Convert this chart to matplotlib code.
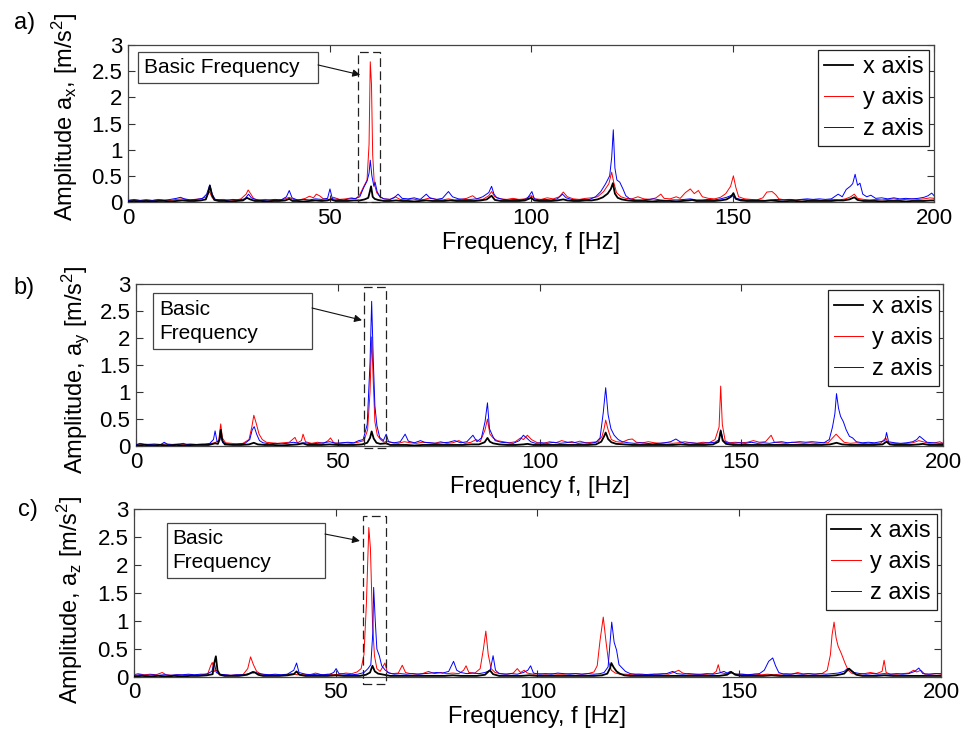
import matplotlib
matplotlib.use("Agg")
import matplotlib.pyplot as plt
from matplotlib.patches import Rectangle

plt.rcParams['font.family'] = ['Liberation Sans', 'DejaVu Sans']
plt.rcParams['mathtext.fontset'] = 'custom'
plt.rcParams['mathtext.rm'] = 'Liberation Sans'
plt.rcParams['mathtext.it'] = 'Liberation Sans:italic'
plt.rcParams['mathtext.default'] = 'regular'

# ---------------- data: (frequency [Hz], amplitude [m/s^2]) ----------------
A_X = [(0,0.01),(1.5,0.02),(3,0.01),(4.5,0.02),(6,0.01),(7.5,0.02),(9,0.02),(10.5,0.01),(12,0.02),(13.5,0.03),(15,0.02),(16.5,0.02),(18,0.03),(19.3,0.05),(19.9,0.18),(20.3,0.31),(20.8,0.14),(21.4,0.04),(22.5,0.02),(24,0.02),(25.5,0.01),(27,0.02),(28.5,0.03),(29.5,0.08),(30.3,0.05),(31.5,0.02),(33,0.02),(34.5,0.01),(36,0.02),(37.5,0.02),(39,0.03),(40,0.06),(40.8,0.02),(42,0.02),(43.5,0.01),(45,0.02),(46.5,0.03),(48,0.02),(49.5,0.03),(50.3,0.05),(51.5,0.02),(53,0.02),(54.5,0.02),(56,0.03),(57.5,0.03),(58.7,0.05),(59.6,0.08),(60.0,0.2),(60.3,0.3),(60.7,0.1),(61.2,0.06),(62,0.04),(63.5,0.02),(65,0.02),(66.5,0.03),(68,0.02),(69.5,0.02),(71,0.01),(72.5,0.02),(74,0.03),(75.5,0.02),(77,0.02),(78.5,0.02),(80,0.03),(81.5,0.02),(83,0.02),(84.5,0.02),(86,0.02),(87.5,0.03),(89,0.05),(90.2,0.12),(91,0.04),(92.5,0.02),(94,0.02),(95.5,0.02),(97,0.02),(98.5,0.03),(100,0.08),(100.8,0.03),(102,0.02),(103.5,0.02),(105,0.02),(106.5,0.03),(108,0.05),(109,0.03),(110.5,0.02),(112,0.02),(113.5,0.03),(115,0.03),(116.5,0.05),(117.8,0.09),(119,0.16),(119.8,0.25),(120.3,0.36),(120.8,0.16),(121.5,0.08),(122.5,0.05),(124,0.03),(125.5,0.02),(127,0.02),(128.5,0.02),(130,0.01),(131.5,0.02),(133,0.02),(134.5,0.02),(136,0.01),(137.5,0.02),(139,0.03),(140,0.04),(141,0.02),(142.5,0.02),(144,0.02),(145.5,0.02),(147,0.03),(148.5,0.05),(149.6,0.1),(150.2,0.17),(150.8,0.06),(152,0.03),(153.5,0.02),(155,0.02),(156.5,0.02),(158,0.02),(159.5,0.03),(161,0.02),(162.5,0.01),(164,0.02),(165.5,0.02),(167,0.01),(168.5,0.02),(170,0.02),(171.5,0.02),(173,0.02),(174.5,0.02),(176,0.03),(177.5,0.03),(179,0.05),(180.2,0.09),(181,0.04),(182.5,0.02),(184,0.02),(185.5,0.02),(187,0.01),(188.5,0.02),(190,0.02),(191.5,0.02),(193,0.01),(194.5,0.02),(196,0.02),(197.5,0.02),(199,0.03),(200,0.03)]
A_Y = [(0,0.03),(1.5,0.05),(3,0.03),(4.5,0.04),(6,0.03),(7.5,0.05),(9,0.04),(10.5,0.03),(12,0.05),(13.5,0.06),(15,0.04),(16.5,0.05),(18,0.06),(19.5,0.1),(20.2,0.2),(20.9,0.08),(22,0.04),(23.5,0.05),(25,0.04),(26.5,0.03),(28,0.06),(29.3,0.15),(29.8,0.23),(30.4,0.16),(31.2,0.06),(32.5,0.04),(34,0.05),(35.5,0.03),(37,0.04),(38.5,0.05),(40,0.09),(41,0.05),(42.5,0.04),(44,0.07),(45,0.11),(46,0.08),(46.7,0.15),(47.5,0.12),(48.5,0.06),(50,0.05),(51,0.09),(52.5,0.05),(54,0.06),(55.5,0.08),(56.5,0.06),(57.5,0.14),(58.5,0.3),(59.3,0.42),(59.8,1.1),(60.1,2.68),(60.4,2.25),(60.7,0.9),(61.1,0.35),(61.7,0.18),(62.5,0.1),(63.5,0.06),(65,0.05),(66.3,0.1),(67.5,0.05),(69,0.04),(70.5,0.06),(72,0.04),(73.5,0.05),(75,0.08),(76.5,0.05),(78,0.04),(79.5,0.06),(81,0.04),(82.5,0.05),(84,0.07),(85.5,0.12),(86.5,0.06),(88,0.05),(89.5,0.12),(90.2,0.2),(91,0.1),(92.5,0.06),(94,0.05),(95.5,0.07),(97,0.05),(98.5,0.06),(100,0.12),(101,0.06),(102.5,0.05),(104,0.08),(105.5,0.06),(107,0.1),(108,0.19),(109,0.1),(110.5,0.06),(112,0.05),(113.5,0.07),(115,0.08),(116.5,0.1),(118,0.2),(119.3,0.35),(120,0.57),(120.5,0.38),(121.2,0.18),(122.3,0.1),(123.5,0.07),(125,0.06),(126.5,0.1),(128,0.06),(129.5,0.05),(131,0.08),(132.2,0.15),(133,0.07),(134.5,0.06),(136,0.1),(137,0.07),(138.3,0.18),(139.5,0.25),(140.5,0.16),(141.5,0.22),(142.5,0.1),(144,0.07),(145.5,0.06),(147,0.09),(148.3,0.16),(149.5,0.3),(150.2,0.5),(150.8,0.28),(151.5,0.1),(153,0.06),(154.5,0.05),(156,0.04),(157.5,0.08),(158.5,0.19),(159.8,0.2),(160.7,0.14),(161.5,0.06),(163,0.04),(164.5,0.05),(166,0.03),(167.5,0.05),(169,0.04),(170.5,0.05),(172,0.03),(173.5,0.04),(175,0.05),(176.5,0.04),(178,0.06),(179.3,0.1),(180.2,0.15),(181,0.07),(182.5,0.05),(184,0.04),(185.5,0.05),(187,0.04),(188.5,0.05),(190,0.06),(191.5,0.04),(193,0.05),(194.5,0.06),(196,0.05),(197.5,0.06),(199,0.08),(200,0.07)]
A_Z = [(0,0.03),(1.5,0.04),(3,0.03),(4.5,0.04),(6,0.03),(7.5,0.04),(9,0.03),(10.5,0.05),(12,0.07),(13,0.09),(14,0.06),(15.5,0.04),(17,0.05),(18.5,0.07),(19.5,0.15),(20.3,0.33),(20.9,0.15),(21.6,0.05),(23,0.04),(24.5,0.03),(26,0.05),(27.5,0.04),(29,0.06),(29.9,0.15),(30.6,0.08),(32,0.04),(33.5,0.03),(35,0.04),(36.5,0.05),(38,0.04),(39.3,0.1),(40,0.22),(40.7,0.08),(42,0.04),(43.5,0.05),(45,0.04),(46.5,0.06),(48,0.05),(49.5,0.07),(50.1,0.25),(50.7,0.06),(52,0.05),(53.5,0.04),(55,0.06),(56.5,0.07),(57.5,0.1),(58.5,0.28),(59.3,0.4),(59.8,0.55),(60.1,0.8),(60.5,0.5),(61,0.3),(61.3,0.38),(61.8,0.2),(62.5,0.1),(63.5,0.06),(65,0.05),(66,0.08),(67,0.15),(68,0.07),(69.5,0.06),(71,0.08),(72.5,0.05),(74,0.15),(75,0.07),(76.5,0.05),(78,0.07),(79.5,0.2),(80.5,0.1),(82,0.06),(83.5,0.05),(85,0.05),(86.5,0.06),(88,0.1),(89.5,0.18),(90.2,0.3),(90.8,0.15),(91.5,0.08),(93,0.05),(94.5,0.04),(96,0.05),(97.5,0.04),(99,0.06),(100.2,0.2),(100.8,0.06),(102,0.04),(103.5,0.05),(105,0.04),(106.5,0.06),(107.8,0.15),(108.7,0.08),(110,0.05),(111.5,0.04),(113,0.05),(114.5,0.05),(116,0.1),(117.3,0.2),(118.5,0.35),(119.5,0.5),(120,0.85),(120.4,1.38),(120.8,0.65),(121.3,0.42),(122,0.38),(122.8,0.25),(123.5,0.12),(124.5,0.06),(126,0.04),(127.5,0.04),(129,0.05),(130.5,0.06),(132,0.04),(133.5,0.03),(135,0.04),(136.5,0.04),(138,0.05),(139.5,0.06),(141,0.04),(142.5,0.04),(144,0.05),(145.5,0.04),(147,0.06),(148.5,0.09),(149.8,0.13),(150.5,0.08),(152,0.05),(153.5,0.04),(155,0.04),(156.5,0.04),(158,0.03),(159.5,0.04),(161,0.05),(162.5,0.04),(164,0.05),(165.5,0.04),(167,0.05),(168.5,0.06),(170,0.05),(171.5,0.06),(173,0.05),(174.5,0.06),(176.2,0.15),(177.2,0.1),(178.2,0.24),(179.2,0.3),(179.8,0.35),(180.4,0.53),(181,0.32),(181.6,0.36),(182.3,0.15),(183.3,0.1),(184.3,0.13),(185.5,0.07),(187,0.08),(188.5,0.06),(190,0.08),(191.5,0.06),(193,0.07),(194.5,0.06),(196,0.07),(197.5,0.09),(198.5,0.12),(199.4,0.17),(200,0.12)]

B_X = [(0,0.01),(2,0.02),(4,0.01),(6,0.02),(8,0.01),(10,0.02),(12,0.01),(14,0.02),(16,0.02),(18,0.02),(19.6,0.05),(20.3,0.04),(20.7,0.12),(21,0.3),(21.4,0.1),(22,0.03),(24,0.02),(26,0.02),(28,0.03),(29.2,0.06),(30.2,0.03),(32,0.02),(34,0.02),(36,0.01),(38,0.02),(40,0.03),(41.4,0.05),(42.5,0.02),(44,0.02),(46,0.02),(48,0.03),(50,0.02),(52,0.02),(54,0.02),(56,0.03),(57.3,0.06),(58,0.15),(58.4,0.27),(58.9,0.14),(59.6,0.06),(60.5,0.04),(62,0.05),(63,0.02),(65,0.02),(67,0.02),(69,0.01),(71,0.02),(73,0.02),(75,0.02),(77,0.02),(79,0.02),(81,0.02),(83,0.03),(85,0.03),(86.4,0.07),(87.1,0.15),(87.7,0.08),(88.5,0.05),(90,0.03),(92,0.02),(94,0.02),(96,0.03),(97,0.04),(98.5,0.02),(100,0.02),(102,0.02),(104,0.02),(106,0.02),(108,0.02),(110,0.02),(112,0.02),(114,0.03),(115.3,0.08),(116,0.18),(116.4,0.25),(117,0.13),(117.8,0.07),(119,0.04),(121,0.03),(123,0.02),(125,0.02),(127,0.02),(129,0.02),(131,0.02),(133,0.02),(135,0.03),(137,0.02),(139,0.02),(141,0.02),(143,0.03),(144.4,0.08),(144.9,0.28),(145.4,0.1),(146.2,0.04),(148,0.02),(150,0.02),(152,0.02),(154,0.02),(156,0.02),(158,0.02),(160,0.02),(162,0.02),(164,0.02),(166,0.02),(168,0.02),(170,0.02),(172,0.03),(173.6,0.06),(175,0.03),(177,0.02),(179,0.02),(181,0.02),(183,0.02),(185,0.03),(186,0.08),(186.8,0.03),(188,0.02),(190,0.02),(192,0.02),(194,0.03),(195,0.04),(196.5,0.02),(198,0.02),(200,0.02)]
B_Y = [(0,0.03),(1.5,0.04),(3,0.03),(4.5,0.04),(6,0.03),(7.5,0.04),(9,0.03),(10.5,0.04),(12,0.03),(13.5,0.04),(15,0.03),(16.5,0.04),(18,0.04),(19.5,0.06),(20.5,0.1),(21,0.41),(21.4,0.15),(22.2,0.06),(23.5,0.05),(25,0.04),(26.5,0.05),(28,0.12),(28.7,0.35),(29.2,0.57),(29.8,0.42),(30.5,0.22),(31.3,0.12),(32.3,0.07),(33.5,0.06),(35,0.05),(36.5,0.06),(38,0.07),(39.4,0.16),(40,0.06),(41,0.1),(41.4,0.22),(42,0.08),(43.5,0.05),(45,0.07),(46.5,0.05),(47.6,0.1),(48.2,0.15),(49,0.06),(50.5,0.05),(52,0.06),(53.5,0.05),(55,0.07),(56.5,0.1),(57.4,0.3),(58,1.0),(58.4,2.02),(58.8,1.2),(59.2,0.45),(59.8,0.2),(60.6,0.12),(61.5,0.07),(62.2,0.09),(63.5,0.06),(65,0.05),(66.5,0.08),(68,0.06),(69.5,0.05),(71,0.07),(72.5,0.06),(74,0.05),(75.5,0.08),(77,0.05),(78.5,0.06),(80,0.1),(81.5,0.05),(83,0.07),(84.3,0.12),(85.3,0.08),(86.5,0.3),(87.1,0.5),(87.7,0.22),(88.5,0.15),(89.5,0.1),(91,0.08),(92.5,0.06),(94,0.08),(95.3,0.15),(96,0.12),(97,0.2),(98,0.12),(99.5,0.06),(101,0.05),(102.5,0.08),(104,0.06),(105.5,0.1),(107,0.07),(108.5,0.06),(110,0.09),(111.5,0.06),(113,0.07),(114.5,0.08),(115.5,0.18),(116,0.32),(116.4,0.48),(117,0.3),(117.8,0.12),(119,0.08),(120.5,0.07),(122,0.12),(123,0.13),(124,0.07),(125.5,0.06),(127,0.08),(128.5,0.06),(130,0.05),(131.5,0.06),(133,0.05),(134.5,0.06),(136,0.08),(137.5,0.06),(139,0.05),(140.5,0.07),(142,0.06),(143.5,0.12),(144.5,0.35),(144.9,1.11),(145.3,0.4),(146,0.1),(147,0.06),(148.5,0.07),(150,0.06),(151.5,0.07),(153,0.1),(154.5,0.07),(156,0.08),(157.4,0.2),(158.2,0.07),(159.5,0.06),(161,0.05),(162.5,0.07),(164,0.06),(165.5,0.05),(167,0.06),(168.5,0.05),(170,0.06),(171.5,0.06),(172.5,0.14),(173.5,0.22),(174.5,0.14),(175.5,0.07),(177,0.05),(178.5,0.06),(180,0.05),(181.5,0.04),(183,0.05),(184.5,0.05),(185.8,0.15),(186.4,0.06),(188,0.05),(189.5,0.04),(191,0.05),(192.5,0.06),(194,0.1),(195,0.08),(196.5,0.05),(198,0.06),(199.2,0.08),(200,0.05)]
B_Z = [(0,0.02),(1,0.05),(2,0.03),(3.5,0.03),(5,0.02),(6.2,0.03),(7,0.07),(7.8,0.03),(9,0.02),(10.5,0.03),(11.7,0.05),(12.5,0.03),(14,0.02),(15.5,0.03),(17,0.03),(18.3,0.05),(19.2,0.12),(19.6,0.28),(20.1,0.08),(20.7,0.1),(21,0.2),(21.5,0.06),(22.5,0.04),(24,0.03),(25.5,0.04),(27,0.05),(28.2,0.12),(28.8,0.3),(29.3,0.36),(29.9,0.22),(30.6,0.1),(31.5,0.06),(33,0.04),(34.5,0.05),(36,0.04),(37.5,0.05),(39,0.07),(40.5,0.05),(42,0.06),(43.5,0.04),(45,0.05),(46.5,0.06),(48,0.08),(49.5,0.05),(51,0.06),(52.5,0.07),(54,0.06),(55.2,0.1),(56.3,0.12),(57.3,0.4),(58,1.55),(58.4,2.68),(58.8,1.6),(59.2,0.75),(59.7,0.38),(60.4,0.16),(61.3,0.1),(62,0.22),(62.6,0.08),(64,0.06),(65.5,0.08),(66.7,0.22),(67.5,0.09),(69,0.06),(70.5,0.1),(71.5,0.07),(73,0.06),(74.5,0.05),(76,0.06),(77.5,0.07),(79,0.1),(80.5,0.06),(82,0.08),(83.5,0.2),(84.5,0.08),(85.6,0.15),(86.5,0.45),(87.1,0.8),(87.6,0.32),(88.3,0.2),(89,0.1),(90.5,0.07),(92,0.06),(93.5,0.05),(95,0.1),(96,0.2),(96.8,0.15),(97.8,0.08),(99,0.05),(100.5,0.06),(102,0.05),(103.5,0.07),(105,0.05),(106.5,0.06),(108,0.08),(109.5,0.05),(111,0.06),(112.5,0.05),(114,0.07),(115,0.15),(115.8,0.62),(116.4,1.08),(117,0.58),(117.7,0.32),(118.5,0.2),(119.5,0.12),(120.5,0.08),(122,0.06),(123.5,0.05),(125,0.06),(126.5,0.05),(128,0.04),(129.5,0.05),(131,0.06),(132.5,0.08),(133.8,0.13),(134.8,0.08),(136,0.05),(137.5,0.06),(139,0.05),(140.5,0.05),(142,0.06),(143.5,0.07),(144.5,0.12),(144.9,0.3),(145.5,0.1),(146.5,0.06),(148,0.05),(149.5,0.06),(151,0.05),(152.5,0.07),(154,0.05),(155.5,0.06),(157,0.05),(158.5,0.07),(160,0.08),(161.5,0.06),(163,0.07),(164.5,0.08),(166,0.07),(167.5,0.08),(169,0.07),(170.5,0.06),(171.8,0.12),(172.6,0.35),(173.2,0.6),(173.6,0.97),(174.1,0.7),(174.6,0.55),(175.3,0.45),(176,0.3),(176.8,0.18),(177.6,0.15),(178.5,0.08),(180,0.06),(181.5,0.07),(183,0.06),(184.5,0.08),(185.6,0.1),(186,0.25),(186.5,0.08),(188,0.06),(189.5,0.05),(191,0.06),(192.5,0.08),(193.5,0.12),(194.2,0.18),(195,0.13),(196,0.07),(197.5,0.06),(199,0.05),(200,0.05)]

C_X = [(0,0.01),(2,0.02),(4,0.01),(6,0.02),(8,0.01),(10,0.02),(12,0.01),(14,0.02),(16,0.02),(18,0.03),(19.5,0.05),(19.9,0.25),(20.3,0.37),(20.7,0.12),(21.3,0.04),(22.5,0.02),(24,0.02),(26,0.02),(28,0.04),(29.3,0.08),(30,0.08),(30.8,0.04),(32,0.02),(34,0.02),(36,0.02),(38,0.03),(39.6,0.05),(40.3,0.1),(41,0.04),(42.5,0.02),(44,0.02),(46,0.02),(48,0.02),(50,0.03),(52,0.02),(54,0.02),(56,0.02),(57.5,0.04),(58.5,0.08),(59.1,0.2),(59.7,0.1),(60.5,0.06),(62,0.04),(63.5,0.02),(65,0.02),(67,0.02),(69,0.02),(71,0.02),(73,0.02),(75,0.02),(77,0.02),(79,0.03),(81,0.02),(83,0.02),(85,0.02),(87,0.04),(88.2,0.12),(89,0.05),(90.5,0.02),(92,0.02),(94,0.02),(96,0.02),(98,0.03),(100,0.02),(102,0.02),(104,0.02),(106,0.02),(108,0.02),(110,0.02),(112,0.02),(114,0.02),(116,0.03),(117.3,0.06),(118,0.16),(118.3,0.25),(118.9,0.17),(119.6,0.1),(120.4,0.06),(121.5,0.03),(123,0.02),(125,0.02),(127,0.02),(129,0.02),(131,0.02),(133,0.02),(135,0.02),(137,0.02),(139,0.02),(141,0.02),(143,0.02),(145,0.02),(147,0.04),(148,0.09),(149,0.04),(150.5,0.02),(152,0.02),(154,0.02),(156,0.02),(158,0.03),(160,0.02),(162,0.02),(164,0.02),(166,0.02),(168,0.02),(170,0.02),(172,0.02),(174,0.03),(176,0.06),(177.2,0.15),(178,0.1),(179,0.04),(180.5,0.02),(182,0.02),(184,0.02),(186,0.03),(188,0.02),(190,0.02),(192,0.02),(194,0.02),(196,0.02),(198,0.02),(200,0.02)]
C_Y = [(0,0.04),(1,0.06),(2.5,0.04),(4,0.05),(5.5,0.04),(7,0.08),(8,0.04),(9.5,0.03),(11,0.04),(12.5,0.03),(14,0.04),(15.5,0.03),(17,0.04),(18.3,0.06),(19,0.2),(19.4,0.26),(19.9,0.1),(20.5,0.12),(21,0.05),(22.5,0.04),(24,0.03),(25.5,0.04),(27,0.04),(28.2,0.15),(28.9,0.36),(29.6,0.22),(30.4,0.1),(31.5,0.05),(33,0.04),(34.5,0.04),(36,0.03),(37.5,0.04),(39,0.06),(40.5,0.04),(42,0.05),(43.5,0.04),(45,0.07),(46.5,0.04),(48,0.05),(49.5,0.04),(51,0.05),(52.5,0.07),(54,0.06),(55.3,0.09),(56.3,0.15),(57,0.4),(57.6,1.3),(58.2,2.67),(58.6,2.3),(59.1,1.0),(59.6,0.38),(60.2,0.15),(61,0.1),(62.2,0.25),(62.8,0.08),(64,0.06),(65.5,0.07),(66.5,0.21),(67.3,0.08),(68.5,0.06),(70,0.05),(71.5,0.06),(73,0.1),(74.5,0.06),(76,0.08),(77.5,0.06),(79,0.07),(80.5,0.06),(81.7,0.12),(82.3,0.2),(83,0.08),(84.5,0.07),(85.8,0.15),(86.6,0.5),(87.2,0.82),(87.8,0.4),(88.5,0.15),(89.5,0.08),(91,0.06),(92.5,0.05),(94,0.07),(95,0.15),(95.8,0.08),(96.7,0.12),(97.5,0.07),(99,0.05),(100.5,0.06),(102,0.05),(103.5,0.06),(105,0.05),(106.5,0.05),(108,0.06),(109.5,0.06),(111,0.05),(112.5,0.06),(114,0.09),(114.8,0.2),(115.5,0.65),(116.3,1.07),(117,0.62),(117.6,0.28),(118.3,0.12),(119.3,0.07),(120.5,0.05),(122,0.05),(123.5,0.04),(125,0.05),(126.5,0.04),(128,0.05),(129.5,0.05),(131,0.06),(132.5,0.05),(134,0.09),(135,0.12),(136,0.07),(137.5,0.05),(139,0.05),(140.5,0.04),(142,0.05),(143.5,0.06),(144.3,0.1),(144.8,0.22),(145.3,0.08),(146.5,0.06),(148,0.07),(149.5,0.05),(151,0.05),(152.5,0.04),(154,0.05),(155.5,0.04),(157,0.05),(158.5,0.04),(160,0.05),(161.5,0.06),(163,0.05),(164.5,0.08),(166,0.05),(167.5,0.06),(169,0.05),(170.5,0.06),(171.8,0.12),(172.6,0.4),(173,0.75),(173.5,0.98),(174,0.7),(174.5,0.55),(175.3,0.42),(176.2,0.25),(177,0.12),(178,0.06),(179.5,0.05),(181,0.06),(182.5,0.08),(184,0.06),(185.4,0.1),(185.9,0.3),(186.4,0.08),(187.5,0.05),(189,0.05),(190.5,0.06),(192,0.07),(193.2,0.12),(194,0.09),(195,0.12),(196,0.05),(197.5,0.05),(199,0.06),(200,0.05)]
C_Z = [(0,0.03),(1.5,0.04),(3,0.03),(4.5,0.04),(6,0.03),(7.5,0.04),(9,0.03),(10.5,0.04),(12,0.04),(13.5,0.05),(15,0.04),(16.5,0.05),(18,0.05),(19.3,0.1),(19.9,0.26),(20.4,0.08),(21.2,0.05),(22.5,0.04),(24,0.03),(25.5,0.04),(27,0.04),(28.5,0.06),(29.5,0.1),(30.5,0.07),(32,0.05),(33.5,0.04),(35,0.05),(36.5,0.04),(38,0.05),(39.6,0.12),(40.3,0.25),(40.9,0.08),(42.5,0.05),(44,0.04),(45.5,0.05),(47,0.04),(48.5,0.05),(49.5,0.08),(50.1,0.15),(50.8,0.06),(52.5,0.05),(54,0.04),(55.5,0.05),(57,0.08),(58,0.15),(58.7,0.22),(59.2,0.8),(59.4,1.6),(59.8,1.0),(60.2,0.5),(60.8,0.38),(61.4,0.2),(62.3,0.12),(63.3,0.07),(64.5,0.05),(66,0.06),(67.5,0.05),(69,0.06),(70.5,0.05),(72,0.06),(73.5,0.07),(75,0.08),(76.5,0.07),(78,0.1),(79.2,0.28),(80,0.12),(81,0.08),(82.5,0.06),(84,0.07),(85.5,0.06),(87,0.08),(88.3,0.12),(89,0.38),(89.6,0.12),(90.5,0.06),(92,0.05),(93.5,0.06),(95,0.05),(96.5,0.08),(97.6,0.12),(98.3,0.2),(99,0.07),(100.5,0.05),(102,0.06),(103.5,0.05),(105,0.07),(106.5,0.06),(108,0.05),(109.5,0.06),(111,0.05),(112.5,0.06),(114,0.05),(115.5,0.06),(116.5,0.08),(117.5,0.18),(118.4,0.98),(119,0.62),(119.6,0.48),(120.2,0.22),(121,0.16),(121.8,0.1),(123,0.06),(124.5,0.05),(126,0.05),(127.5,0.04),(129,0.05),(130.5,0.05),(132,0.06),(133.5,0.1),(134.5,0.06),(136,0.05),(137.5,0.06),(139,0.05),(140.5,0.05),(142,0.06),(143.5,0.05),(145,0.07),(146.2,0.1),(147,0.07),(147.8,0.1),(149,0.05),(150.5,0.05),(152,0.04),(153.5,0.05),(155,0.06),(156.2,0.12),(157.3,0.28),(158.3,0.34),(159,0.2),(159.8,0.08),(161,0.05),(162.5,0.05),(164,0.06),(165.5,0.05),(167,0.06),(168.5,0.05),(170,0.06),(171.5,0.05),(173,0.06),(174.5,0.07),(176,0.1),(176.8,0.15),(177.5,0.12),(178.5,0.08),(180,0.06),(181.5,0.05),(183,0.06),(184.5,0.05),(186,0.06),(187.5,0.05),(189,0.06),(190.5,0.05),(192,0.06),(193.5,0.1),(194.5,0.16),(195.5,0.06),(197,0.05),(198.5,0.06),(200,0.06)]

SERIES_NAMES = ["x axis", "y axis", "z axis"]
X_TICKS = [0, 50, 100, 150, 200]
Y_TICKS = [0, 0.5, 1, 1.5, 2, 2.5, 3]
Y_TICK_LABELS = ["0", "0.5", "1", "1.5", "2", "2.5", "3"]
PANEL_LETTERS = ["a)", "b)", "c)"]
X_LABELS = ["Frequency, f [Hz]", "Frequency f, [Hz]", "Frequency, f [Hz]"]
Y_LABELS = ["Amplitude a$_x$, [m/s$^2$]", "Amplitude, a$_y$ [m/s$^2$]", "Amplitude, a$_z$ [m/s$^2$]"]
NOTE_TEXTS = ["Basic Frequency", "Basic\nFrequency", "Basic\nFrequency"]
# dashed box around basic frequency (f0, f1, a0, a1) and arrow tip (f, a)
BOX_RANGES = [(57.0, 62.5, 0.0, 2.87), (56.6, 62.0, -0.04, 2.95), (56.8, 62.4, -0.125, 2.875)]
ARROW_TIPS = [(57.6, 2.43), (56.0, 2.33), (56.0, 2.43)]

# ---------------- layout ----------------
AX_RECTS = [[0.132, 0.7244, 0.831, 0.2142],
            [0.1402, 0.3915, 0.832, 0.221],
            [0.1381, 0.0764, 0.832, 0.2292]]
NOTE_BOX = [(0.0124, 0.758, 0.2233, 0.197), (0.0211, 0.599, 0.197, 0.345), (0.0409, 0.589, 0.1958, 0.328)]
NOTE_TXT = [(0.0199, 0.857), (0.0285, 0.769), (0.0471, 0.753)]
ARROW_START = [(0.2357, 0.873), (0.2181, 0.852), (0.2367, 0.851)]
LEG_ANCHOR = [(0.994, 0.968), (0.995, 0.963), (0.995, 0.970)]
XLAB_Y = [-0.19, -0.182, -0.172]
TICK_PAD = [4.5, 4.5, 3.5]
YLAB_POS = [(65, 117), (75, 370), (70, 600)]
LETTER_POS = [(25, 23), (24, 288), (28, 510)]

W, H = 970, 733
fig = plt.figure(figsize=(W / 100, H / 100), dpi=100)

panels = [(A_X, A_Y, A_Z), (B_X, B_Y, B_Z), (C_X, C_Y, C_Z)]
colors = ["#000000", "#ff0000", "#0000ff"]
widths = [1.3, 0.7, 0.7]
zorders = [4, 2, 3]

for i, data in enumerate(panels):
    ax = fig.add_axes(AX_RECTS[i])
    for j, ser in enumerate(data):
        f = [p[0] for p in ser]
        a = [p[1] for p in ser]
        ax.plot(f, a, color=colors[j], lw=widths[j], label=SERIES_NAMES[j], zorder=zorders[j])
    ax.set_xlim(0, 200)
    ax.set_ylim(0, 3)
    ax.set_xticks(X_TICKS)
    ax.set_yticks(Y_TICKS)
    ax.set_yticklabels(Y_TICK_LABELS)
    ax.tick_params(direction='in', top=True, right=True, length=5, width=0.8,
                   labelsize=16, color='#333333')
    ax.tick_params(axis='x', pad=TICK_PAD[i])
    ax.tick_params(axis='y', pad=4)
    for s in ax.spines.values():
        s.set_color('#444444')
        s.set_linewidth(0.9)
    ax.set_xlabel(X_LABELS[i], fontsize=17)
    ax.xaxis.set_label_coords(0.5, XLAB_Y[i])
    ax.xaxis.label.set_va('top')

    leg = ax.legend(loc='upper right', bbox_to_anchor=LEG_ANCHOR[i], borderaxespad=0,
                    fontsize=17, frameon=True, fancybox=False, framealpha=1,
                    edgecolor='#222222', handlelength=1.25, handletextpad=0.4,
                    labelspacing=0.38, borderpad=0.25)
    leg.get_frame().set_linewidth(0.9)
    leg.set_zorder(10)

    # dashed box around the basic frequency peak
    f0, f1, a0, a1 = BOX_RANGES[i]
    ax.add_patch(Rectangle((f0, a0), f1 - f0, a1 - a0, fill=False, edgecolor='#222222',
                           lw=0.9, linestyle=(0, (7, 3.5)), clip_on=False, zorder=6))
    # text box
    bx, by, bw, bh = NOTE_BOX[i]
    ax.add_patch(Rectangle((bx, by), bw, bh, transform=ax.transAxes, fill=True,
                           facecolor='white', edgecolor='#444444', lw=0.9, zorder=7))
    ax.text(NOTE_TXT[i][0], NOTE_TXT[i][1], NOTE_TEXTS[i], transform=ax.transAxes,
            ha='left', va='center', fontsize=15, linespacing=1.3, zorder=8)
    ax.annotate('', xy=ARROW_TIPS[i], xycoords='data',
                xytext=ARROW_START[i], textcoords='axes fraction',
                arrowprops=dict(arrowstyle='-|>', lw=0.8, color='#111111',
                                mutation_scale=11, shrinkA=0, shrinkB=0), zorder=8)

    fig.text(YLAB_POS[i][0] / W, 1 - YLAB_POS[i][1] / H, Y_LABELS[i], rotation=90,
             ha='center', va='center', fontsize=17)
    fig.text(LETTER_POS[i][0] / W, 1 - LETTER_POS[i][1] / H, PANEL_LETTERS[i],
             ha='center', va='center', fontsize=17)

fig.savefig("out.png", dpi=100)
